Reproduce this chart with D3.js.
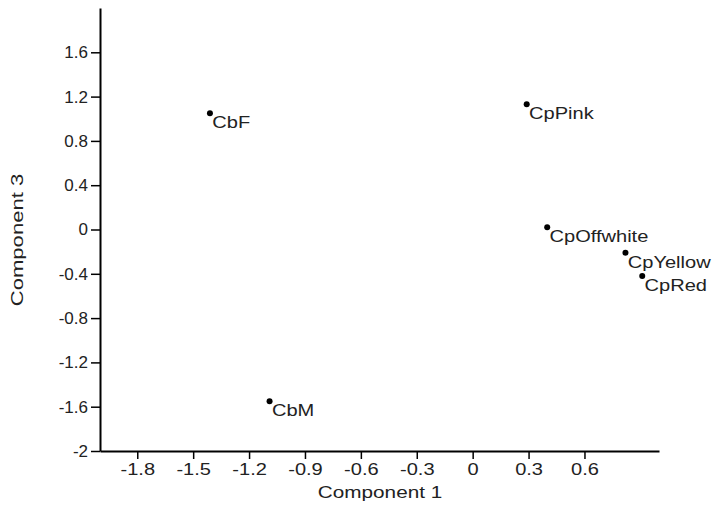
<!DOCTYPE html>
<html>
<head>
<meta charset="utf-8">
<script src="https://cdn.jsdelivr.net/npm/d3@7"></script>
<style>
  body { margin: 0; background: #fff; }
  text { font-family: "Liberation Sans", Arial, sans-serif; fill: #222; }
</style>
</head>
<body>
<svg id="chart"></svg>
<script>
var samples = ["CbF", "CpPink", "CpOffwhite", "CpYellow", "CpRed", "CbM"];
var comp1 = [-1.41, 0.29, 0.40, 0.82, 0.91, -1.09];
var comp3 = [1.05, 1.13, 0.02, -0.21, -0.42, -1.55];
var xTicks = [-1.8, -1.5, -1.2, -0.9, -0.6, -0.3, 0, 0.3, 0.6];
var yTicks = [-2, -1.6, -1.2, -0.8, -0.4, 0, 0.4, 0.8, 1.2, 1.6];

var width = 721, height = 517;
var margin = {top: 8, right: 62, bottom: 66, left: 100};
var stretch = "scale(1.18,1)";

// plain hyphen for minus, like the original
function fmt(d) {
  if (d === 0) return "0";
  var s = Number.isInteger(d) ? String(Math.abs(d)) : Math.abs(d).toFixed(1);
  return (d < 0 ? "-" : "") + s;
}

var svg = d3.select("#chart").attr("width", width).attr("height", height);

var x = d3.scaleLinear().domain([-2, 1]).range([margin.left, width - margin.right]);
var y = d3.scaleLinear().domain([-2, 2]).range([height - margin.bottom, margin.top]);

// x axis
var gx = svg.append("g")
    .attr("transform", "translate(0," + y(-2) + ")")
    .call(d3.axisBottom(x).tickValues(xTicks).tickSize(8).tickPadding(4).tickSizeOuter(0).tickFormat(fmt));

// y axis
var gy = svg.append("g")
    .attr("transform", "translate(" + x(-2) + ",0)")
    .call(d3.axisLeft(y).tickValues(yTicks).tickSize(9).tickPadding(3).tickSizeOuter(0).tickFormat(fmt));

[gx, gy].forEach(function(g) {
  g.select(".domain").attr("stroke", "#000").attr("stroke-width", 2);
  g.selectAll(".tick line").attr("stroke", "#000").attr("stroke-width", 1.5);
  g.selectAll(".tick text").attr("font-size", 17).attr("fill", "#222")
    .attr("font-family", "Liberation Sans, Arial, sans-serif");
});
gx.selectAll(".tick text").attr("transform", stretch);

// axis titles
svg.append("text")
    .attr("transform", "translate(380,498) scale(1.22,1)")
    .attr("text-anchor", "middle").attr("font-size", 17)
    .text("Component 1");

svg.append("text")
    .attr("transform", "translate(23,240) rotate(-90) scale(1.3,1)")
    .attr("text-anchor", "middle").attr("font-size", 17)
    .text("Component 3");

// points
var pts = svg.append("g").selectAll("g")
    .data(samples)
    .enter().append("g")
    .attr("transform", function(d, i) { return "translate(" + x(comp1[i]) + "," + y(comp3[i]) + ")"; });

pts.append("circle").attr("r", 3).attr("fill", "#000");

pts.append("text")
    .attr("x", 2).attr("y", 15)
    .attr("font-size", 17)
    .attr("transform", stretch)
    .text(function(d) { return d; });
</script>
</body>
</html>
